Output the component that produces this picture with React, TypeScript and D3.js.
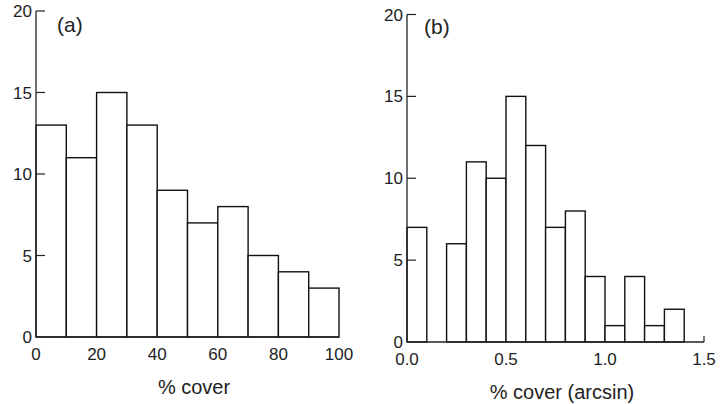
import * as d3 from "d3";

// panel (a): raw % cover, bins of 10
const coverBins = [0, 10, 20, 30, 40, 50, 60, 70, 80, 90, 100];
const coverCounts = [13, 11, 15, 13, 9, 7, 8, 5, 4, 3];
const coverTicks = [0, 20, 40, 60, 80, 100];

// panel (b): arcsin-transformed cover, bins of 0.1
const arcBins = [0, 0.1, 0.2, 0.3, 0.4, 0.5, 0.6, 0.7, 0.8, 0.9, 1.0, 1.1, 1.2, 1.3, 1.4];
const arcCounts = [7, 0, 6, 11, 10, 15, 12, 7, 8, 4, 1, 4, 1, 2];
const arcTicks = [0, 0.5, 1.0, 1.5];

const yTicks = [0, 5, 10, 15, 20];

const FONT = "'Liberation Sans', Arial, Helvetica, sans-serif";
const AXIS = "#222";

type PanelProps = {
  bins: number[];
  counts: number[];
  xDomain: [number, number];
  xTicks: number[];
  tickFmt: (d: number) => string;
  x0: number;
  x1: number;
  y0: number;
  y1: number;
  tag: string;
  tagX: number;
  tagY: number;
  xLabel: string;
  xLabelX: number;
  xLabelY: number;
  endTick?: boolean;
};

function Panel(p: PanelProps) {
  const x = d3.scaleLinear().domain(p.xDomain).range([p.x0, p.x1]);
  const y = d3.scaleLinear().domain([0, 20]).range([p.y0, p.y1]);
  const step = p.bins[1] - p.bins[0];

  return (
    <g>
      {p.counts.map((c, i) =>
        c > 0 ? (
          <rect
            key={i}
            x={x(p.bins[i])}
            y={y(c)}
            width={x(p.bins[i] + step) - x(p.bins[i])}
            height={y(0) - y(c)}
            fill="#fff"
            stroke="#111"
            strokeWidth={1.4}
          />
        ) : null
      )}
      {/* axes */}
      <line x1={x(p.xDomain[0])} x2={x(p.xDomain[1])} y1={y(0)} y2={y(0)} stroke={AXIS} strokeWidth={1.4} />
      <line x1={p.x0} x2={p.x0} y1={y(0)} y2={y(20)} stroke={AXIS} strokeWidth={1.3} />
      {p.endTick ? (
        <line x1={x(p.xDomain[1])} x2={x(p.xDomain[1])} y1={y(0)} y2={y(0) - 6} stroke={AXIS} strokeWidth={1.2} />
      ) : null}
      {yTicks.map((t) => (
        <g key={t}>
          {t > 0 ? (
            <line x1={p.x0} x2={p.x0 + 9} y1={y(t)} y2={y(t)} stroke={AXIS} strokeWidth={1.2} />
          ) : null}
          <text
            x={p.x0 - 4}
            y={y(t)}
            dy="0.36em"
            textAnchor="end"
            fontSize={17}
            fontFamily={FONT}
            fill="#222"
          >
            {t}
          </text>
        </g>
      ))}
      {p.xTicks.map((t) => (
        <text
          key={t}
          x={x(t)}
          y={y(0) + 23}
          textAnchor="middle"
          fontSize={17}
          fontFamily={FONT}
          fill="#222"
        >
          {p.tickFmt(t)}
        </text>
      ))}
      <text x={p.tagX} y={p.tagY} fontSize={21} fontFamily={FONT} fill="#222">
        {p.tag}
      </text>
      <text
        x={p.xLabelX}
        y={p.xLabelY}
        textAnchor="middle"
        fontSize={20}
        fontFamily={FONT}
        fill="#222"
      >
        {p.xLabel}
      </text>
    </g>
  );
}

export default function App() {
  return (
    <svg
      width={720}
      height={404}
      style={{ position: "absolute", left: 0, top: 0, background: "#fff" }}
    >
      <Panel
        bins={coverBins}
        counts={coverCounts}
        xDomain={[0, 100]}
        xTicks={coverTicks}
        tickFmt={(d) => String(d)}
        x0={36}
        x1={339}
        y0={337}
        y1={11}
        tag="(a)"
        tagX={57}
        tagY={32}
        xLabel="% cover"
        xLabelX={194}
        xLabelY={394}
      />
      <Panel
        bins={arcBins}
        counts={arcCounts}
        xDomain={[0, 1.5]}
        xTicks={arcTicks}
        tickFmt={(d) => d.toFixed(1)}
        x0={407}
        x1={704}
        y0={342}
        y1={14.5}
        tag="(b)"
        tagX={424}
        tagY={34}
        xLabel="% cover (arcsin)"
        xLabelX={562}
        xLabelY={399}
        endTick
      />
    </svg>
  );
}
